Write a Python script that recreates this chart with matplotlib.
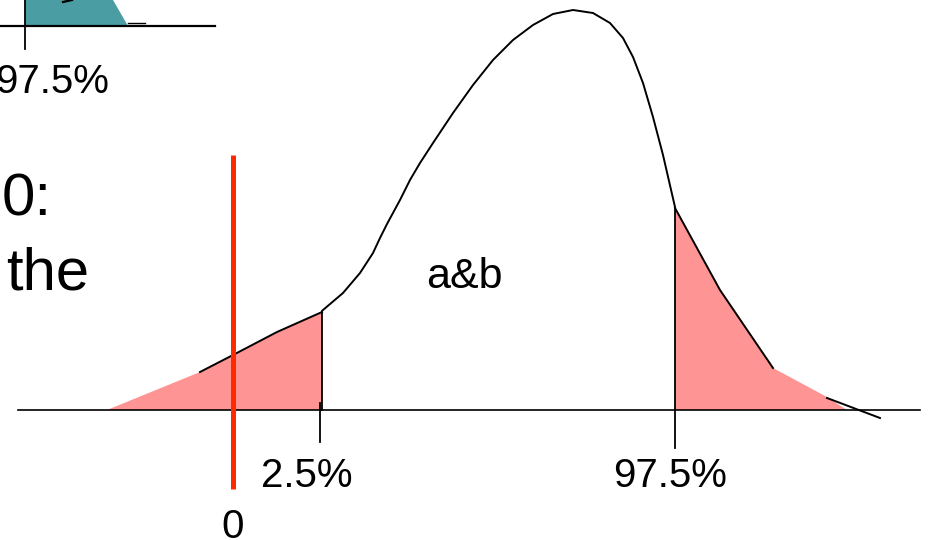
import matplotlib
matplotlib.use("Agg")
import matplotlib.pyplot as plt

plt.rcParams['font.family'] = ['Liberation Sans', 'DejaVu Sans']

# Main density outline (a&b), canvas pixel coordinates
curve_x = [323, 343, 360, 373, 380, 387, 400, 410, 420, 433, 453, 473, 493,
           513, 533, 553, 573, 593, 610, 623, 633, 643, 653, 663, 675]
curve_y = [310, 293, 273, 253, 238, 224, 200, 180, 163, 143, 113, 85, 60,
           40, 25, 14, 10, 13, 23, 38, 57, 83, 117, 155, 207]

# Left tail (below 2.5%)
left_fill_x = [107, 200, 233, 277, 322, 322]
left_fill_y = [410, 372, 355, 332, 312, 410]
left_line_x = [200, 233, 277, 322]
left_line_y = [372, 355, 332, 312]

# Right tail (above 97.5%)
right_fill_x = [675, 675, 720, 773, 827, 847]
right_fill_y = [410, 208, 290, 368, 397, 410]
right_line_x = [675, 720, 773]
right_line_y = [208, 290, 368]
right_end_x = [827, 880]
right_end_y = [398, 418]

# Small inset distribution, top left
inset_fill_x = [25, 25, 128, 113]
inset_fill_y = [0, 26, 26, 0]

pink = '#FF9494'
teal = '#4A9EA3'
red = '#FF2A00'

fig = plt.figure(figsize=(9.3, 5.4), dpi=100)
ax = fig.add_axes([0, 0, 1, 1])
ax.set_xlim(0, 930)
ax.set_ylim(540, 0)
ax.axis('off')

# inset
ax.fill(inset_fill_x, inset_fill_y, color=teal, lw=0)
ax.plot([0, 215], [26, 26], color='black', lw=1.6)
ax.plot([25, 25], [0, 49], color='black', lw=1.3)
ax.plot([63, 72], [2, 0], color='black', lw=1.6)
ax.plot([128, 145], [23, 23], color='black', lw=1.0)
ax.text(52, 93, '97.5%', fontsize=29, ha='center', va='baseline')

# text fragments
ax.text(2, 215, '0:', fontsize=43, ha='left', va='baseline')
ax.text(6, 290, 'the', fontsize=43, ha='left', va='baseline')

# tails
ax.fill(left_fill_x, left_fill_y, color=pink, lw=0)
ax.fill(right_fill_x, right_fill_y, color=pink, lw=0)

# baseline axis
ax.plot([18, 920], [410, 410], color='black', lw=1.2)

# curve lines
ax.plot(curve_x, curve_y, color='black', lw=1.4, solid_joinstyle='round')
ax.plot(left_line_x, left_line_y, color='black', lw=1.4)
ax.plot(right_line_x, right_line_y, color='black', lw=1.4)
ax.plot(right_end_x, right_end_y, color='black', lw=1.4)

# cut-off markers
ax.plot([322, 322], [311, 410], color='black', lw=1.3)
ax.plot([320, 320], [403, 442], color='black', lw=1.3)
ax.plot([675, 675], [208, 448], color='black', lw=1.3)

# zero line
ax.plot([233, 233], [155, 489], color=red, lw=3.6, solid_capstyle='butt')

ax.text(307, 487, '2.5%', fontsize=29, ha='center', va='baseline')
ax.text(670, 487, '97.5%', fontsize=29, ha='center', va='baseline')
ax.text(233, 538, '0', fontsize=29, ha='center', va='baseline')
ax.text(464, 288, 'a&b', fontsize=31, ha='center', va='baseline')

fig.savefig('out.png', dpi=100)
